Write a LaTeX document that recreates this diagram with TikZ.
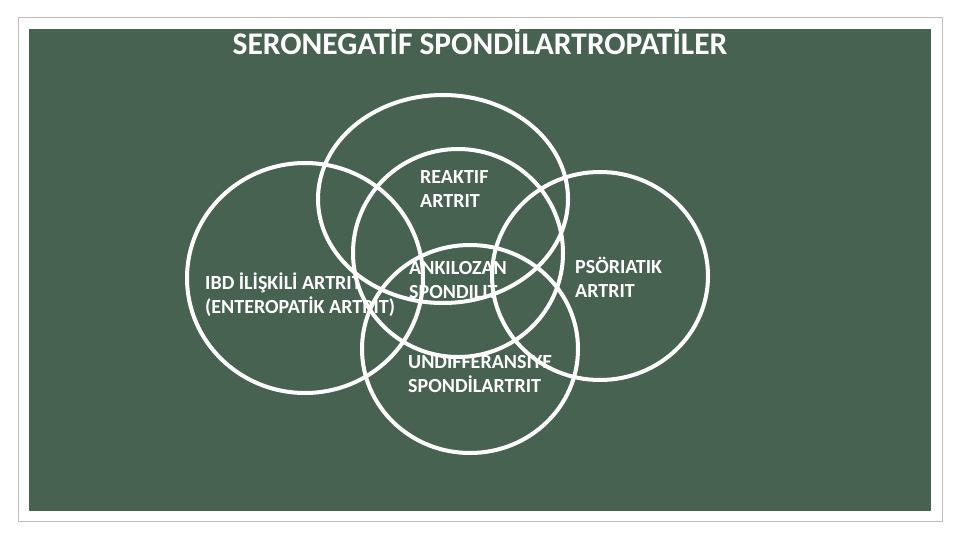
\documentclass[tikz,border=0pt]{standalone}
\usepackage{fontspec}
\setmainfont{Carlito}
\usepackage{tikz}
\usepackage{xcolor}
\usetikzlibrary{positioning}

\definecolor{board}{RGB}{72,98,82}
\definecolor{frame}{RGB}{190,190,190}

\begin{document}
\begin{tikzpicture}[x=1pt, y=-1pt,
        ring/.style={draw=white, line width=4pt},
        lbl/.style={text=white, font=\fontsize{20}{23.5}\selectfont\bfseries, align=left, inner sep=0pt, anchor=base west}]
        \useasboundingbox (0, 0) rectangle (960, 540);
        \fill[white] (0, 0) rectangle (960, 540);
        \draw[frame, line width=1pt] (18, 18) rectangle (942, 521);
        \fill[board] (29, 29) rectangle (931, 511);

        \node[text=white, font=\fontsize{31.5}{36}\selectfont\bfseries, anchor=base] (title) at (480, 55) {SERONEGATİF SPONDİLARTROPATİLER};

        % circles
        \draw[ring] (443, 199) ellipse (125 and 104);
        \draw[ring] (458, 253) ellipse (105 and 104);
        \draw[ring] (305, 278) ellipse (118 and 115);
        \draw[ring] (600, 276) ellipse (108 and 104);
        \draw[ring] (470, 349) ellipse (108 and 104);

        % labels (base = last line)
        \node[lbl] (reaktif) at (420, 207) {REAKTIF\\ARTRIT};
        \node[lbl] (ankilozan) at (409, 298) {ANKILOZAN\\SPONDILIT};
        \node[lbl] (ibd) at (205, 313) {IBD İLİŞKİLİ ARTRIT\\(ENTEROPATİK ARTRİT)};
        \node[lbl] (psoriatik) at (575, 297) {PSÖRIATIK\\ARTRIT};
        \node[lbl] (undif) at (408, 392) {UNDIFFERANSIYE\\SPONDİLARTRIT};
    \end{tikzpicture}
\end{document}
